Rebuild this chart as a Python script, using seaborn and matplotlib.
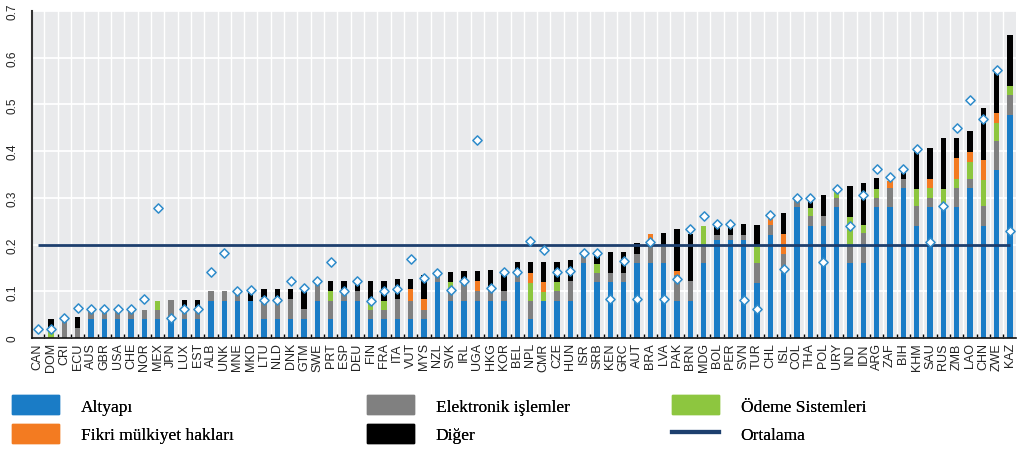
import numpy as np
import matplotlib
matplotlib.use("Agg")
import matplotlib.pyplot as plt
import seaborn as sns
from matplotlib.patches import Patch
from matplotlib.lines import Line2D

# 🔹 Data
countries = ["CAN", "DOM", "CRI", "ECU", "AUS", "GBR", "USA", "CHE", "NOR", "MEX",
             "JPN", "LUX", "EST", "ALB", "UNK", "MNE", "MKD", "LTU", "NLD", "DNK",
             "GTM", "SWE", "PRT", "ESP", "DEU", "FIN", "FRA", "ITA", "VUT", "MYS",
             "NZL", "SVK", "IRL", "UGA", "HKG", "KOR", "BEL", "NPL", "CMR", "CZE",
             "HUN", "ISR", "SRB", "KEN", "GRC", "AUT", "BRA", "LVA", "PAK", "BRN",
             "MDG", "BOL", "PER", "SVN", "TUR", "CHL", "ISL", "COL", "THA", "POL",
             "URY", "IND", "IDN", "ARG", "ZAF", "BIH", "KHM", "SAU", "RUS", "ZMB",
             "LAO", "CHN", "ZWE", "KAZ"]

altyapi = [0, 0, 0, 0, 0.04, 0.04, 0.04, 0.04, 0.04, 0.04,
           0.04, 0.04, 0.04, 0.08, 0.08, 0.08, 0.08, 0.04, 0.04, 0.04,
           0.04, 0.08, 0.04, 0.08, 0.08, 0.04, 0.04, 0.04, 0.04, 0.04,
           0.12, 0.08, 0.08, 0.08, 0.08, 0.08, 0.12, 0.04, 0.08, 0.08,
           0.08, 0.16, 0.12, 0.12, 0.12, 0.16, 0.16, 0.16, 0.08, 0.08,
           0.16, 0.21, 0.21, 0.21, 0.118, 0.22, 0.14, 0.28, 0.24, 0.24,
           0.28, 0.16, 0.16, 0.28, 0.28, 0.32, 0.24, 0.28, 0.285, 0.28,
           0.32, 0.24, 0.36, 0.478]

elektronik = [0, 0, 0.04, 0.022, 0.02, 0.02, 0.02, 0.02, 0.02, 0.02,
              0.042, 0.027, 0.027, 0.02, 0.02, 0.02, 0, 0.047, 0.047, 0.044,
              0.022, 0.042, 0.04, 0.02, 0.02, 0.02, 0.02, 0.044, 0.04, 0.02,
              0.018, 0.025, 0.046, 0.02, 0.02, 0.02, 0.02, 0.04, 0, 0.02,
              0.043, 0.018, 0.02, 0.02, 0.02, 0.02, 0.05, 0.04, 0.055, 0.043,
              0.04, 0.01, 0.01, 0.01, 0.043, 0.022, 0.04, 0.018, 0.02, 0.02,
              0.02, 0.04, 0.064, 0.02, 0.04, 0.021, 0.042, 0.02, 0, 0.042,
              0.02, 0.042, 0.062, 0.041]

odeme = [0, 0.012, 0, 0, 0, 0, 0, 0, 0, 0.02,
         0, 0, 0, 0, 0, 0, 0, 0, 0, 0,
         0, 0, 0.02, 0, 0, 0.02, 0.02, 0, 0, 0,
         0, 0.014, 0, 0, 0, 0, 0, 0.038, 0.018, 0.02,
         0, 0, 0.018, 0, 0, 0, 0, 0, 0, 0,
         0.04, 0, 0, 0, 0.038, 0, 0, 0, 0.019, 0,
         0.013, 0.058, 0.018, 0.019, 0, 0, 0.037, 0.02, 0.033, 0.018,
         0.037, 0.055, 0.038, 0.02]

fikri = [0, 0, 0, 0, 0, 0, 0, 0, 0, 0,
         0, 0, 0, 0, 0, 0, 0, 0, 0, 0,
         0, 0, 0, 0, 0, 0, 0, 0, 0.025, 0.024,
         0, 0, 0, 0.023, 0, 0, 0, 0.022, 0.021, 0,
         0, 0, 0, 0, 0, 0, 0.012, 0, 0.008, 0,
         0, 0, 0, 0, 0, 0.014, 0.043, 0, 0, 0,
         0, 0, 0, 0, 0.016, 0, 0, 0.02, 0, 0.045,
         0.022, 0.044, 0.021, 0]

diger = [0, 0.028, 0, 0.022, 0, 0, 0, 0, 0, 0,
         0, 0.015, 0.015, 0, 0, 0, 0.02, 0.018, 0.018, 0.021,
         0.045, 0, 0.023, 0.023, 0.023, 0.043, 0.043, 0.042, 0.021, 0.05,
         0, 0.022, 0.018, 0.021, 0.046, 0.037, 0.022, 0.022, 0.043, 0.042,
         0.043, 0, 0.018, 0.045, 0.045, 0.024, 0, 0.025, 0.09, 0.10,
         0, 0.02, 0.02, 0.023, 0.043, 0, 0.045, 0, 0.02, 0.045,
         0, 0.067, 0.089, 0.023, 0, 0.016, 0.087, 0.066, 0.109, 0.044,
         0.044, 0.111, 0.089, 0.11]

# diamonds (second index shown in the chart)
elmas = [0.02, 0.02, 0.043, 0.064, 0.061, 0.061, 0.061, 0.061, 0.083, 0.278,
         0.042, 0.061, 0.061, 0.141, 0.181, 0.10, 0.102, 0.082, 0.082, 0.123,
         0.106, 0.123, 0.163, 0.101, 0.123, 0.08, 0.101, 0.105, 0.17, 0.128,
         0.14, 0.102, 0.123, 0.424, 0.106, 0.142, 0.141, 0.207, 0.188, 0.142,
         0.144, 0.181, 0.181, 0.084, 0.164, 0.084, 0.206, 0.084, 0.126, 0.234,
         0.261, 0.243, 0.243, 0.082, 0.061, 0.264, 0.148, 0.299, 0.30, 0.162,
         0.319, 0.239, 0.307, 0.362, 0.344, 0.362, 0.405, 0.206, 0.282, 0.449,
         0.509, 0.469, 0.573, 0.229]

ortalama = 0.2

# 🔹 Colours
c_blue = "#1a7cc6"
c_grey = "#808080"
c_green = "#8dc63f"
c_orange = "#f37b21"
c_black = "#000000"
c_navy = "#1d3f6e"

plt.rcParams["font.family"] = ["Liberation Sans", "DejaVu Sans"]

fig = plt.figure(figsize=(10.19, 4.56), dpi=100)
ax = fig.add_axes([0.0314, 0.2566, 0.9656, 0.7174])
ax.set_facecolor("#e9eaec")

# 🔹 Stacked bars (overlay cumulative sums, tallest first)
layers = [altyapi, elektronik, odeme, fikri, diger]
colors = [c_blue, c_grey, c_green, c_orange, c_black]
cum = np.cumsum(np.array(layers), axis=0)
for k in range(len(layers) - 1, -1, -1):
    sns.barplot(x=countries, y=cum[k], color=colors[k], width=0.4,
                saturation=1, linewidth=0, ax=ax, zorder=2)

# 🔹 Average line and diamonds
ax.hlines(ortalama, 0, len(countries) - 1, color=c_navy, linewidth=2, zorder=3)
sns.scatterplot(x=countries, y=elmas, marker="D", s=22, color="white",
                edgecolor="#2f8ccb", linewidth=1.1, ax=ax, zorder=4)

# 🔹 Axes styling
ax.set_xlim(-0.43, len(countries) - 1 + 0.45)
ax.set_ylim(0, 0.7)
ax.set_yticks(np.arange(0, 0.71, 0.1))
ax.set_yticklabels(["0", "0.1", "0.2", "0.3", "0.4", "0.5", "0.6", "0.7"],
                   rotation=90, va="center", fontsize=8.5, color="#222222")
ax.set_xticks(range(len(countries)))
ax.set_xticklabels(countries, rotation=90, fontsize=9, color="#222222")
ax.set_xticks(np.arange(len(countries) - 1) + 0.5, minor=True)
ax.tick_params(axis="x", which="major", length=0, pad=3)
ax.tick_params(axis="x", which="minor", length=3, direction="in", color="black", width=1)
ax.tick_params(axis="y", length=0, pad=10)
ax.set_axisbelow(True)
ax.grid(axis="y", color="white", linewidth=1.3)
ax.grid(axis="x", which="minor", color="white", linewidth=1)
ax.set_xlabel("")
ax.set_ylabel("")
for s in ["top", "right"]:
    ax.spines[s].set_visible(False)
ax.spines["left"].set_color("#333333")
ax.spines["left"].set_linewidth(1.5)
ax.spines["bottom"].set_color("#111111")
ax.spines["bottom"].set_linewidth(1.2)

# 🔹 Legend (three columns under the chart)
leg_kw = dict(frameon=False, handlelength=2.7, handleheight=1.3,
              handletextpad=1.25, labelspacing=0.55, borderpad=0, borderaxespad=0,
              loc="upper left", prop={"family": ["Liberation Serif"], "size": 12.5})
cols = [
    ([Patch(color=c_blue), Patch(color=c_orange)], ["Altyapı", "Fikri mülkiyet hakları"], 0.0118),
    ([Patch(color=c_grey), Patch(color=c_black)], ["Elektronik işlemler", "Diğer"], 0.3602),
    ([Patch(color=c_green), Line2D([0], [0], color=c_navy, linewidth=3)],
     ["Ödeme Sistemleri", "Ortalama"], 0.6595),
]
for handles, labels, xpos in cols:
    lg = fig.legend(handles, labels, bbox_to_anchor=(xpos, 0.131), **leg_kw)
    fig.add_artist(lg)

fig.savefig("out.png", dpi=100)
